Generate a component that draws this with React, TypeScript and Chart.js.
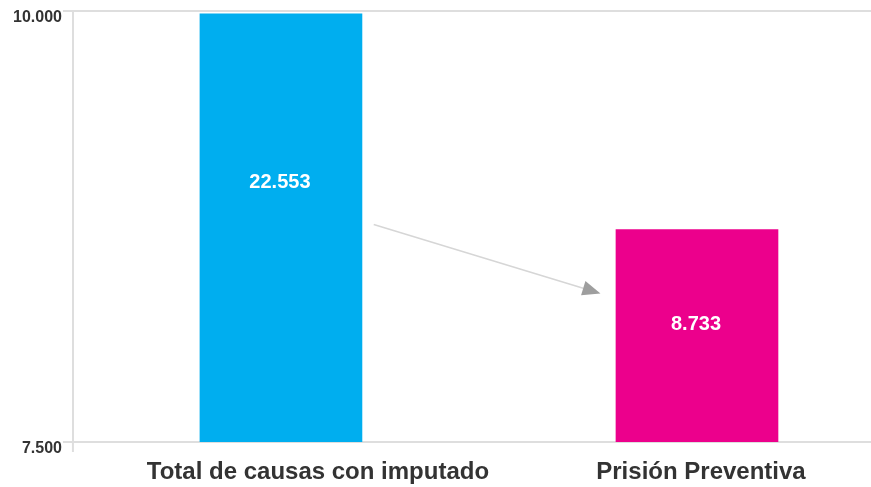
import { useEffect, useRef } from "react";
import { Chart, registerables } from "chart.js";

Chart.register(...registerables);

// Causas judiciales: total con imputado vs. con prisión preventiva
const categories = ["Total de causas con imputado", "Prisión Preventiva"];
const causas = [22553, 8733];
const barColors = ["#00AEEF", "#EC008C"];
const yTickValues = [7500, 10000];
const yMin = 7500;
const yMax = 10000;

const FONT = "'Liberation Sans', Arial, sans-serif";
const fmt = (n: number) => n.toLocaleString("de-DE");

// vertical nudge of each value label from its bar's visible middle
const VALUE_LABEL_SHIFT = [-44, -11];
// horizontal nudge of each category label from its bar's centre
const CATEGORY_LABEL_SHIFT = [37, 4];
// arrow ends, in scale units: [category position, value]
const ARROW_FROM = [0.223, 8760];
const ARROW_TO = [0.768, 8361];

// White value labels inside each bar
const valueLabels = {
  id: "barValues",
  afterDraw(chart: any) {
    const { ctx, chartArea } = chart;
    const xs = chart.scales.x;
    const ys = chart.scales.y;
    ctx.save();
    ctx.fillStyle = "#ffffff";
    ctx.font = `bold 20px ${FONT}`;
    ctx.textAlign = "center";
    ctx.textBaseline = "middle";
    causas.forEach((v, i) => {
      const top = Math.max(ys.getPixelForValue(v), chartArea.top);
      const base = ys.getPixelForValue(yMin);
      const mid = (top + base) / 2 + VALUE_LABEL_SHIFT[i];
      ctx.fillText(fmt(v), xs.getPixelForValue(i) - 1, mid);
    });
    ctx.restore();
  },
};

// Category names under the axis
const categoryLabels = {
  id: "categoryLabels",
  afterDraw(chart: any) {
    const { ctx, chartArea } = chart;
    const xs = chart.scales.x;
    ctx.save();
    ctx.fillStyle = "#333333";
    ctx.font = `bold 24px ${FONT}`;
    ctx.textAlign = "center";
    ctx.textBaseline = "middle";
    categories.forEach((c, i) => {
      ctx.fillText(c, xs.getPixelForValue(i) + CATEGORY_LABEL_SHIFT[i], chartArea.bottom + 30);
    });
    // y axis line runs a little past the baseline
    ctx.strokeStyle = "#dedede";
    ctx.lineWidth = 2;
    ctx.beginPath();
    ctx.moveTo(chartArea.left, chartArea.bottom);
    ctx.lineTo(chartArea.left, chartArea.bottom + 10);
    ctx.stroke();
    ctx.restore();
  },
};

// Arrow from the first bar towards the second
const arrow = {
  id: "arrow",
  afterDatasetsDraw(chart: any) {
    const { ctx } = chart;
    const xs = chart.scales.x;
    const ys = chart.scales.y;
    const x1 = xs.getPixelForValue(ARROW_FROM[0]);
    const y1 = ys.getPixelForValue(ARROW_FROM[1]);
    const x2 = xs.getPixelForValue(ARROW_TO[0]);
    const y2 = ys.getPixelForValue(ARROW_TO[1]);
    const ang = Math.atan2(y2 - y1, x2 - x1);
    const len = 18;
    const half = 7.5;
    const bx = x2 - len * Math.cos(ang);
    const by = y2 - len * Math.sin(ang);
    ctx.save();
    ctx.strokeStyle = "#d6d6d6";
    ctx.lineWidth = 1.5;
    ctx.beginPath();
    ctx.moveTo(x1, y1);
    ctx.lineTo(bx, by);
    ctx.stroke();
    ctx.fillStyle = "#9e9e9e";
    ctx.beginPath();
    ctx.moveTo(x2, y2);
    ctx.lineTo(bx + half * Math.sin(ang), by - half * Math.cos(ang));
    ctx.lineTo(bx - half * Math.sin(ang), by + half * Math.cos(ang));
    ctx.closePath();
    ctx.fill();
    ctx.restore();
  },
};

export default function App() {
  const ref = useRef<HTMLCanvasElement | null>(null);

  useEffect(() => {
    if (!ref.current) return;
    const chart = new Chart(ref.current, {
      type: "bar",
      data: {
        labels: categories,
        datasets: [
          {
            data: causas,
            backgroundColor: barColors,
            borderWidth: 0,
            barPercentage: 0.391,
            categoryPercentage: 1,
            clip: { left: 0, top: -3, right: 0, bottom: 0 },
          },
        ],
      },
      options: {
        animation: false,
        responsive: true,
        maintainAspectRatio: false,
        layout: { padding: { left: 12, right: 5, top: 0, bottom: 45 } },
        plugins: {
          legend: { display: false },
          tooltip: { enabled: false },
        },
        scales: {
          x: {
            grid: { display: false, drawTicks: false },
            border: { display: false },
            ticks: { display: false },
          },
          y: {
            min: yMin,
            max: yMax,
            afterBuildTicks: (axis: any) => {
              axis.ticks = yTickValues.map((v) => ({ value: v }));
            },
            grid: { color: "#dedede", lineWidth: 2, tickLength: 10 },
            border: { color: "#dedede", width: 2 },
            ticks: {
              color: "#333333",
              font: { family: FONT, size: 16, weight: "bold" },
              padding: 1,
              labelOffset: 7,
              callback: (v: any) => fmt(Number(v)),
            },
          },
        },
      },
      plugins: [arrow, valueLabels, categoryLabels],
    });
    return () => chart.destroy();
  }, []);

  return (
    <div
      style={{
        position: "fixed",
        left: 0,
        top: 0,
        width: 871,
        height: 487,
        overflow: "hidden",
        background: "#ffffff",
      }}
    >
      <div style={{ position: "relative", width: 910, height: 487 }}>
        <canvas ref={ref} />
      </div>
    </div>
  );
}
